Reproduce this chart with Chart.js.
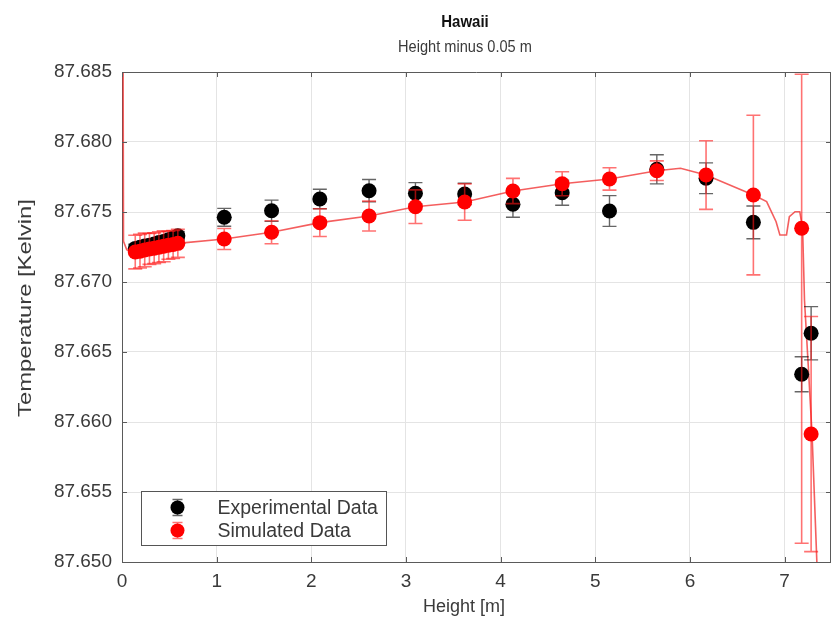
<!DOCTYPE html>
<html>
<head>
<meta charset="utf-8">
<title>Hawaii</title>
<script src="https://cdn.jsdelivr.net/npm/chart.js@4.4.1/dist/chart.umd.min.js"></script>
<style>
  html, body { margin: 0; padding: 0; background: #fff; overflow: hidden; }
  #wrap { width: 831px; height: 629px; }
</style>
</head>
<body>
<div id="wrap"><canvas id="c" width="831" height="629"></canvas></div>
<script>
// Measurement heights [m] shared by the experimental and simulated points
const heights = [0.14, 0.19, 0.24, 0.29, 0.34, 0.39, 0.44, 0.49, 0.54, 0.59,
                 1.08, 1.58, 2.09, 2.61, 3.10, 3.62, 4.13, 4.65, 5.15, 5.65,
                 6.17, 6.67, 7.18, 7.28];

// Experimental temperatures [K] and their uncertainty
const expTemp = [87.67240, 87.67248, 87.67257, 87.67262, 87.67271, 87.67283, 87.67290, 87.67302, 87.67315, 87.67330,
                 87.67462, 87.67509, 87.67593, 87.67652, 87.67634, 87.67629, 87.67555, 87.67638, 87.67507, 87.67805,
                 87.67741, 87.67426, 87.66341, 87.66634];
const expErr  = [0.0003, 0.0003, 0.0003, 0.0003, 0.0003, 0.0003, 0.0003, 0.0003, 0.0003, 0.0003,
                 0.00064, 0.00076, 0.0007, 0.0008, 0.00076, 0.00076, 0.00093, 0.0009, 0.0011, 0.00104,
                 0.0011, 0.00117, 0.00125, 0.0019];

// Simulated temperatures [K] with upper / lower uncertainty
const simTemp    = [87.67214, 87.67220, 87.67229, 87.67236, 87.67241, 87.67249, 87.67255, 87.67262, 87.67268, 87.67276,
                    87.67307, 87.67355, 87.67424, 87.67471, 87.67538, 87.67571, 87.67650, 87.67702, 87.67736, 87.67795,
                    87.67764, 87.67621, 87.67384, 87.65914];
const simErrUp   = [0.0012, 0.0012, 0.0012, 0.0011, 0.0011, 0.0011, 0.0011, 0.0010, 0.0010, 0.0010,
                    0.00075, 0.00082, 0.00099, 0.00107, 0.0012, 0.0013, 0.0009, 0.00086, 0.0008, 0.0007,
                    0.00245, 0.0057, 0.0110, 0.0084];
const simErrDown = [0.0012, 0.0012, 0.0012, 0.0011, 0.0011, 0.0011, 0.0011, 0.0010, 0.0010, 0.0010,
                    0.00075, 0.00082, 0.00099, 0.00107, 0.0012, 0.0013, 0.0009, 0.00086, 0.0008, 0.0007,
                    0.00245, 0.0057, 0.0225, 0.0084];

// Continuous simulated temperature profile
const profileHeight = [0.010, 0.016, 0.05, 0.10, 0.14, 0.59, 1.08, 1.58, 2.09, 2.61, 3.10, 3.62, 4.13, 4.65,
                       5.15, 5.65, 5.90, 6.17, 6.67, 6.81, 6.91, 6.95, 7.02, 7.05, 7.11, 7.16, 7.19,
                       7.21, 7.25, 7.29, 7.34, 7.37];
const profileTemp   = [87.6900, 87.6729, 87.6723, 87.6721, 87.67214, 87.67276, 87.67307, 87.67355, 87.67424,
                       87.67471, 87.67538, 87.67571, 87.67650, 87.67702, 87.67736, 87.67795, 87.67812, 87.67764,
                       87.67621, 87.67574, 87.67431, 87.67336, 87.67336, 87.67466, 87.67502, 87.67502, 87.67384,
                       87.6687, 87.6640, 87.6591, 87.6501, 87.6450];

// Axis ticks
const xTicks = [0, 1, 2, 3, 4, 5, 6, 7];
const yTicks = [87.650, 87.655, 87.660, 87.665, 87.670, 87.675, 87.680, 87.685];

const textColor = '#3a3a3a';
const fontFamily = '"Liberation Sans", Arial, Helvetica, sans-serif';

const toPoints = (xs, ys) => xs.map((x, i) => ({ x: x, y: ys[i] }));

// Vertical error bars with caps, drawn just before each dataset's markers
const errorBarPlugin = {
  id: 'errorBars',
  beforeDatasetDraw(chart, args) {
    const ds = chart.data.datasets[args.index];
    if (!ds.errUp) return;
    const { ctx, chartArea, scales: { x, y } } = chart;
    ctx.save();
    ctx.beginPath();
    ctx.rect(chartArea.left, chartArea.top, chartArea.right - chartArea.left, chartArea.bottom - chartArea.top);
    ctx.clip();
    ctx.strokeStyle = ds.errColor;
    ctx.lineWidth = ds.errWidth;
    const cap = 7;
    ds.data.forEach((p, i) => {
      const px = x.getPixelForValue(p.x);
      const yt = y.getPixelForValue(p.y + ds.errUp[i]);
      const yb = y.getPixelForValue(p.y - ds.errDown[i]);
      ctx.beginPath();
      ctx.moveTo(px, yt); ctx.lineTo(px, yb);
      ctx.moveTo(px - cap, yt); ctx.lineTo(px + cap, yt);
      ctx.moveTo(px - cap, yb); ctx.lineTo(px + cap, yb);
      ctx.stroke();
    });
    ctx.restore();
  }
};

// Box outline and inward tick marks on all four sides
const framePlugin = {
  id: 'frame',
  afterDatasetsDraw(chart) {
    const { ctx, chartArea: a, scales: { x, y } } = chart;
    ctx.save();
    ctx.strokeStyle = '#5a5a5a';
    ctx.lineWidth = 1;
    ctx.beginPath();
    ctx.moveTo(a.left, a.top + 0.5); ctx.lineTo(a.right, a.top + 0.5);
    ctx.moveTo(a.right - 0.5, a.top); ctx.lineTo(a.right - 0.5, a.bottom);
    const t = 5;
    xTicks.forEach(v => {
      const px = Math.round(x.getPixelForValue(v)) + 0.5;
      ctx.moveTo(px, a.bottom); ctx.lineTo(px, a.bottom - t);
      ctx.moveTo(px, a.top); ctx.lineTo(px, a.top + t);
    });
    yTicks.forEach(v => {
      const py = Math.round(y.getPixelForValue(v)) + 0.5;
      ctx.moveTo(a.left, py); ctx.lineTo(a.left + t, py);
      ctx.moveTo(a.right, py); ctx.lineTo(a.right - t, py);
    });
    ctx.stroke();
    ctx.restore();
  }
};

// Title, subtitle and both axis labels
const titlePlugin = {
  id: 'axesTitle',
  afterDraw(chart) {
    const { ctx } = chart;
    const cx = 465;
    ctx.save();
    ctx.textAlign = 'center';
    ctx.textBaseline = 'middle';

    ctx.save();
    ctx.translate(cx, 22);
    ctx.scale(1, 1.15);
    ctx.fillStyle = '#111';
    ctx.font = 'bold 15px ' + fontFamily;
    ctx.fillText('Hawaii', 0, 0);
    ctx.restore();

    ctx.save();
    ctx.translate(cx, 47);
    ctx.scale(1, 1.15);
    ctx.fillStyle = textColor;
    ctx.font = '14.6px ' + fontFamily;
    ctx.fillText('Height minus 0.05 m', 0, 0);
    ctx.restore();

    ctx.fillStyle = textColor;
    ctx.font = '18px ' + fontFamily;
    ctx.fillText('Height [m]', 464, 607);

    ctx.save();
    ctx.translate(26, 308);
    ctx.rotate(-Math.PI / 2);
    ctx.scale(1.25, 1);
    ctx.font = '19px ' + fontFamily;
    ctx.fillText('Temperature [Kelvin]', 0, 0);
    ctx.restore();

    ctx.restore();
  }
};

// Legend box in the lower-left corner of the axes
const legendBoxPlugin = {
  id: 'legendBox',
  afterDraw(chart) {
    const { ctx } = chart;
    const entries = chart.data.datasets.filter(d => d.legendRank).sort((p, q) => p.legendRank - q.legendRank);
    const bx = 141.5, by = 491.5, bw = 245, bh = 54;
    ctx.save();
    ctx.fillStyle = '#fff';
    ctx.fillRect(bx, by, bw, bh);
    ctx.strokeStyle = '#555';
    ctx.lineWidth = 1;
    ctx.strokeRect(bx, by, bw, bh);
    ctx.font = '19.5px ' + fontFamily;
    ctx.textBaseline = 'middle';
    ctx.textAlign = 'left';
    entries.forEach((d, i) => {
      const cy = by + 16 + i * 23;
      const mx = bx + 36;
      ctx.strokeStyle = d.errColor;
      ctx.lineWidth = 1.5;
      ctx.beginPath();
      ctx.moveTo(mx, cy - 8); ctx.lineTo(mx, cy + 8);
      ctx.moveTo(mx - 5, cy - 8); ctx.lineTo(mx + 5, cy - 8);
      ctx.moveTo(mx - 5, cy + 8); ctx.lineTo(mx + 5, cy + 8);
      ctx.stroke();
      ctx.fillStyle = d.backgroundColor;
      ctx.beginPath();
      ctx.arc(mx, cy, 7, 0, Math.PI * 2);
      ctx.fill();
      ctx.fillStyle = textColor;
      ctx.fillText(d.label, bx + 76, cy + 1);
    });
    ctx.restore();
  }
};

new Chart(document.getElementById('c'), {
  type: 'scatter',
  data: {
    datasets: [
      {
        label: 'Simulated Data',
        legendRank: 2,
        data: toPoints(heights, simTemp),
        errUp: simErrUp,
        errDown: simErrDown,
        errColor: 'rgba(255,20,20,0.6)',
        errWidth: 1.6,
        backgroundColor: '#ff0000',
        borderColor: '#ff0000',
        pointRadius: 7.5,
        pointBorderWidth: 0,
        showLine: false,
        order: 1
      },
      {
        label: 'Experimental Data',
        legendRank: 1,
        data: toPoints(heights, expTemp),
        errUp: expErr,
        errDown: expErr,
        errColor: 'rgba(0,0,0,0.6)',
        errWidth: 1.4,
        backgroundColor: '#000000',
        borderColor: '#000000',
        pointRadius: 7.5,
        pointBorderWidth: 0,
        showLine: false,
        order: 2
      },
      {
        label: 'Simulated profile',
        type: 'line',
        data: toPoints(profileHeight, profileTemp),
        borderColor: 'rgba(240,40,40,0.75)',
        borderWidth: 1.6,
        pointRadius: 0,
        tension: 0,
        fill: false,
        order: 3
      }
    ]
  },
  options: {
    responsive: false,
    animation: false,
    devicePixelRatio: 1,
    layout: { autoPadding: false, padding: { top: 72, right: 0, bottom: 0, left: 0 } },
    plugins: {
      legend: { display: false },
      tooltip: { enabled: false },
      title: { display: false }
    },
    scales: {
      x: {
        type: 'linear',
        min: 0,
        max: 7.49,
        afterBuildTicks: s => { s.ticks = xTicks.map(v => ({ value: v })); },
        afterFit: s => { s.height = 67; },
        grid: { color: '#e4e4e4', drawTicks: false },
        border: { display: true, color: '#5a5a5a', width: 1 },
        ticks: { color: textColor, font: { family: fontFamily, size: 19 }, padding: 8, maxRotation: 0 },
        title: { display: false }
      },
      y: {
        type: 'linear',
        min: 87.650,
        max: 87.685,
        afterBuildTicks: s => { s.ticks = yTicks.map(v => ({ value: v })); },
        afterFit: s => { s.width = 122; },
        grid: { color: '#e4e4e4', drawTicks: false },
        border: { display: true, color: '#5a5a5a', width: 1 },
        ticks: { color: textColor, font: { family: fontFamily, size: 19 }, padding: 10, callback: v => v.toFixed(3) },
        title: { display: false }
      }
    }
  },
  plugins: [errorBarPlugin, framePlugin, titlePlugin, legendBoxPlugin]
});
</script>
</body>
</html>
